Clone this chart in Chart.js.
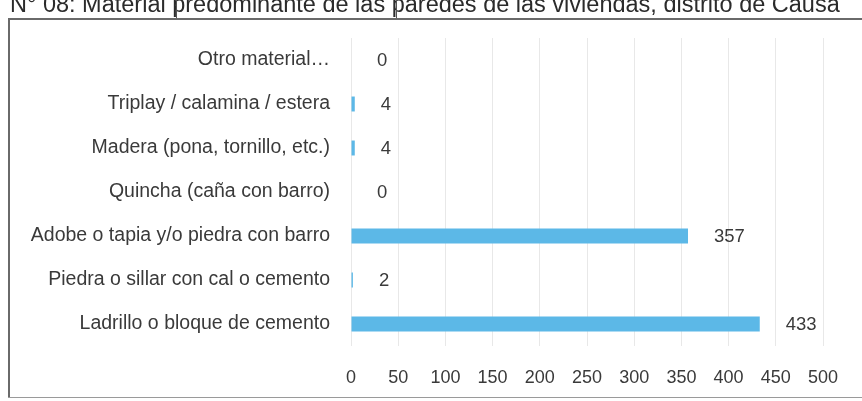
<!DOCTYPE html>
<html>
<head>
<meta charset="utf-8">
<script src="https://cdn.jsdelivr.net/npm/chart.js@4/dist/chart.umd.min.js"></script>
<style>
  html, body { margin: 0; padding: 0; background: #fff; }
  #wrap { position: relative; width: 862px; height: 401px; overflow: hidden; }
</style>
</head>
<body>
<div id="wrap"><canvas id="paredes" width="862" height="401"></canvas></div>
<script>
const categories = [
  'Otro material…',
  'Triplay / calamina / estera',
  'Madera (pona, tornillo, etc.)',
  'Quincha (caña con barro)',
  'Adobe o tapia y/o piedra con barro',
  'Piedra o sillar con cal o cemento',
  'Ladrillo o bloque de cemento'
];
const viviendas = [0, 4, 4, 0, 357, 2, 433];
const xMin = 0;
const xMax = 500;
const xStep = 50;
const tituloTexto = 'N° 08: Material predominante de las paredes de las viviendas, distrito de Causa';

const FONT = '"Liberation Sans", Arial, sans-serif';
const TEXT_COLOR = '#3a3a3a';
const BAR_COLOR = '#5cb8e7';

// frame of the figure and the caption line that sits above it
const marcoPlugin = {
  id: 'marco',
  beforeDraw(chart) {
    const { ctx, width, height } = chart;
    ctx.save();
    ctx.fillStyle = '#fff';
    ctx.fillRect(0, 0, width, height);

    ctx.fillStyle = '#2b2b2b';
    ctx.font = '23.5px ' + FONT;
    ctx.textAlign = 'left';
    ctx.textBaseline = 'alphabetic';
    ctx.fillText(tituloTexto, 10, 12);

    ctx.strokeStyle = '#555';
    ctx.lineWidth = 1;
    [176.5, 396.5].forEach((x) => {
      ctx.beginPath();
      ctx.moveTo(x, 0);
      ctx.lineTo(x, 18);
      ctx.stroke();
    });

    ctx.lineWidth = 2;
    ctx.strokeStyle = '#6a6a6a';
    ctx.beginPath();
    ctx.moveTo(width, 19);
    ctx.lineTo(9, 19);
    ctx.lineTo(9, height - 4);
    ctx.stroke();

    ctx.lineWidth = 1;
    ctx.strokeStyle = '#9a9a9a';
    ctx.beginPath();
    ctx.moveTo(8, height - 3.5);
    ctx.lineTo(width, height - 3.5);
    ctx.stroke();
    ctx.restore();
  }
};

// value printed to the right of each bar
const valoresPlugin = {
  id: 'valores',
  afterDatasetsDraw(chart) {
    const { ctx } = chart;
    const meta = chart.getDatasetMeta(0);
    ctx.save();
    ctx.fillStyle = TEXT_COLOR;
    ctx.font = '18.5px ' + FONT;
    ctx.textAlign = 'left';
    ctx.textBaseline = 'middle';
    meta.data.forEach((bar, i) => {
      ctx.fillText(String(viviendas[i]), bar.x + 26, bar.y + 1);
    });
    ctx.restore();
  }
};

new Chart(document.getElementById('paredes'), {
  type: 'bar',
  data: {
    labels: categories,
    datasets: [{
      data: viviendas,
      backgroundColor: BAR_COLOR,
      borderWidth: 0,
      categoryPercentage: 1,
      barPercentage: 0.34
    }]
  },
  options: {
    indexAxis: 'y',
    responsive: false,
    devicePixelRatio: 1,
    animation: false,
    layout: { padding: { top: 38, right: 39, bottom: 12, left: 0 } },
    plugins: {
      legend: { display: false },
      tooltip: { enabled: false }
    },
    scales: {
      x: {
        min: xMin,
        max: xMax,
        border: { display: false },
        grid: { color: '#e8e8e8', lineWidth: 1, drawTicks: false },
        afterFit(scale) { scale.height = 43; },
        ticks: {
          stepSize: xStep,
          padding: 21,
          color: TEXT_COLOR,
          font: { family: FONT, size: 18 }
        }
      },
      y: {
        border: { display: false },
        grid: { display: false, drawTicks: false },
        afterFit(scale) { scale.width = 351; },
        ticks: {
          padding: 21,
          color: TEXT_COLOR,
          font: { family: FONT, size: 19.5 }
        }
      }
    }
  },
  plugins: [marcoPlugin, valoresPlugin]
});
</script>
</body>
</html>
